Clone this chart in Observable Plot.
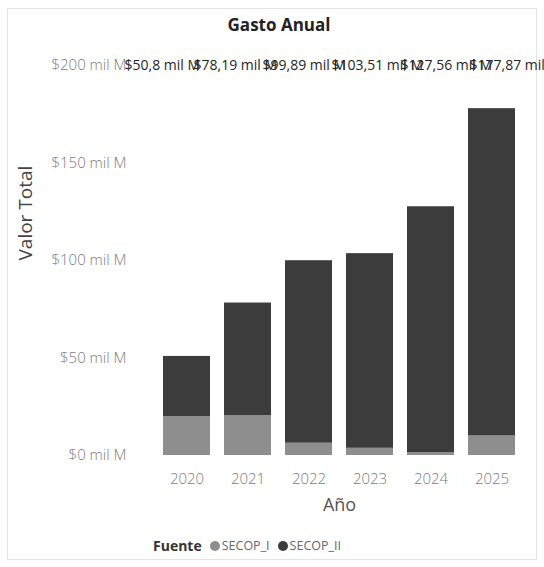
<!DOCTYPE html>
<html>
<head>
<meta charset="utf-8">
<script src="https://cdn.jsdelivr.net/npm/d3@7"></script>
<script src="https://cdn.jsdelivr.net/npm/@observablehq/plot@0.6"></script>
<style>
  html, body { margin: 0; padding: 0; background: #fff; overflow: hidden; }
  #wrap { position: relative; width: 544px; height: 567px; font-family: "Open Sans", sans-serif; }
  #frame { position: absolute; left: 7px; top: 8px; width: 530px; height: 552px; border: 1px solid #e4e4e4; box-sizing: border-box; }
  #title { position: absolute; top: 12px; left: 0; width: 544px; padding-left: 14px; box-sizing: border-box; text-align: center; font-size: 17px; font-weight: bold; color: #222; line-height: 26px; }
  #main { position: absolute; top: 38px; left: 0; }
  #labels { position: absolute; top: 55px; left: 0; }
  #legend { position: absolute; top: 537px; left: 153px; display: flex; align-items: center; font-size: 12.5px; color: #666; line-height: 18px; }
  #legend .ttl { font-weight: bold; color: #333; font-size: 14px; margin-right: 8px; }
  #legend .sw { width: 10px; height: 10px; border-radius: 50%; display: inline-block; margin-right: 2px; }
  #legend .it { display: flex; align-items: center; margin-right: 8px; }
</style>
</head>
<body>
<div id="wrap">
  <div id="frame"></div>
  <div id="title">Gasto Anual</div>
  <div id="main"></div>
  <div id="labels"></div>
  <div id="legend"></div>
</div>
<script>
// ---- data ----
const years = ["2020", "2021", "2022", "2023", "2024", "2025"];
const series = ["SECOP_I", "SECOP_II"];
const secopI = [20.0, 20.5, 6.3, 3.7, 1.5, 10.0];
const secopII = [30.8, 57.69, 93.59, 99.81, 126.06, 167.87];
const totals = [50.8, 78.19, 99.89, 103.51, 127.56, 177.87];
const yTicks = [0, 50, 100, 150, 200];
const colors = ["#8e8e8e", "#3c3c3c"];

const rows = [];
years.forEach((y, i) => rows.push({year: y, fuente: "SECOP_I", value: secopI[i]}));
years.forEach((y, i) => rows.push({year: y, fuente: "SECOP_II", value: secopII[i]}));
const totalRows = years.map((y, i) => ({year: y, total: totals[i]}));
const fmtLabel = v => "$" + String(v).replace(".", ",") + " mil M";

const chart = Plot.plot({
  width: 544,
  height: 487,
  marginTop: 27,
  marginBottom: 70,
  marginLeft: 150,
  marginRight: 16,
  style: {fontFamily: "Open Sans, sans-serif", background: "transparent"},
  x: {type: "band", domain: years, paddingInner: 0.23, paddingOuter: 0.213, label: null},
  y: {domain: [0, 200], label: null},
  color: {domain: series, range: colors},
  marks: [
    Plot.barY(rows, {x: "year", y: "value", fill: "fuente"}),
    Plot.axisY({ticks: yTicks, tickFormat: d => `$${d} mil M`, tickSize: 0, tickPadding: 24, fontSize: 15, color: "#7c7c7c", fontWeight: 300, label: null}),
    Plot.axisX({tickSize: 0, tickPadding: 18, fontSize: 15, color: "#7c7c7c", fontWeight: 300, label: null}),
    Plot.text(["Valor Total"], {text: d => d, frameAnchor: "left", dx: -125, rotate: -90, fontSize: 19, fill: "#444"}),
    Plot.text(["Año"], {text: d => d, frameAnchor: "bottom", dy: 55, fontSize: 18, fill: "#555"})
  ]
});
document.getElementById("main").appendChild(chart);

const labelPlot = Plot.plot({
  width: 544,
  height: 20,
  margin: 0,
  style: {fontFamily: "Open Sans, sans-serif", background: "transparent", overflow: "hidden"},
  x: {type: "point", domain: years, range: [123, 470], padding: 0, axis: null},
  marks: [
    Plot.text(totalRows, {x: "year", text: d => fmtLabel(d.total), textAnchor: "start", frameAnchor: "middle", fontSize: 14, fill: "#262626"})
  ]
});
document.getElementById("labels").appendChild(labelPlot);

const legend = document.getElementById("legend");
const t = document.createElement("span");
t.className = "ttl"; t.textContent = "Fuente";
legend.appendChild(t);
series.forEach((s, i) => {
  const it = document.createElement("span");
  it.className = "it";
  const sw = document.createElement("span");
  sw.className = "sw"; sw.style.background = colors[i];
  const tx = document.createElement("span");
  tx.textContent = s;
  it.appendChild(sw); it.appendChild(tx);
  legend.appendChild(it);
});
</script>
</body>
</html>
